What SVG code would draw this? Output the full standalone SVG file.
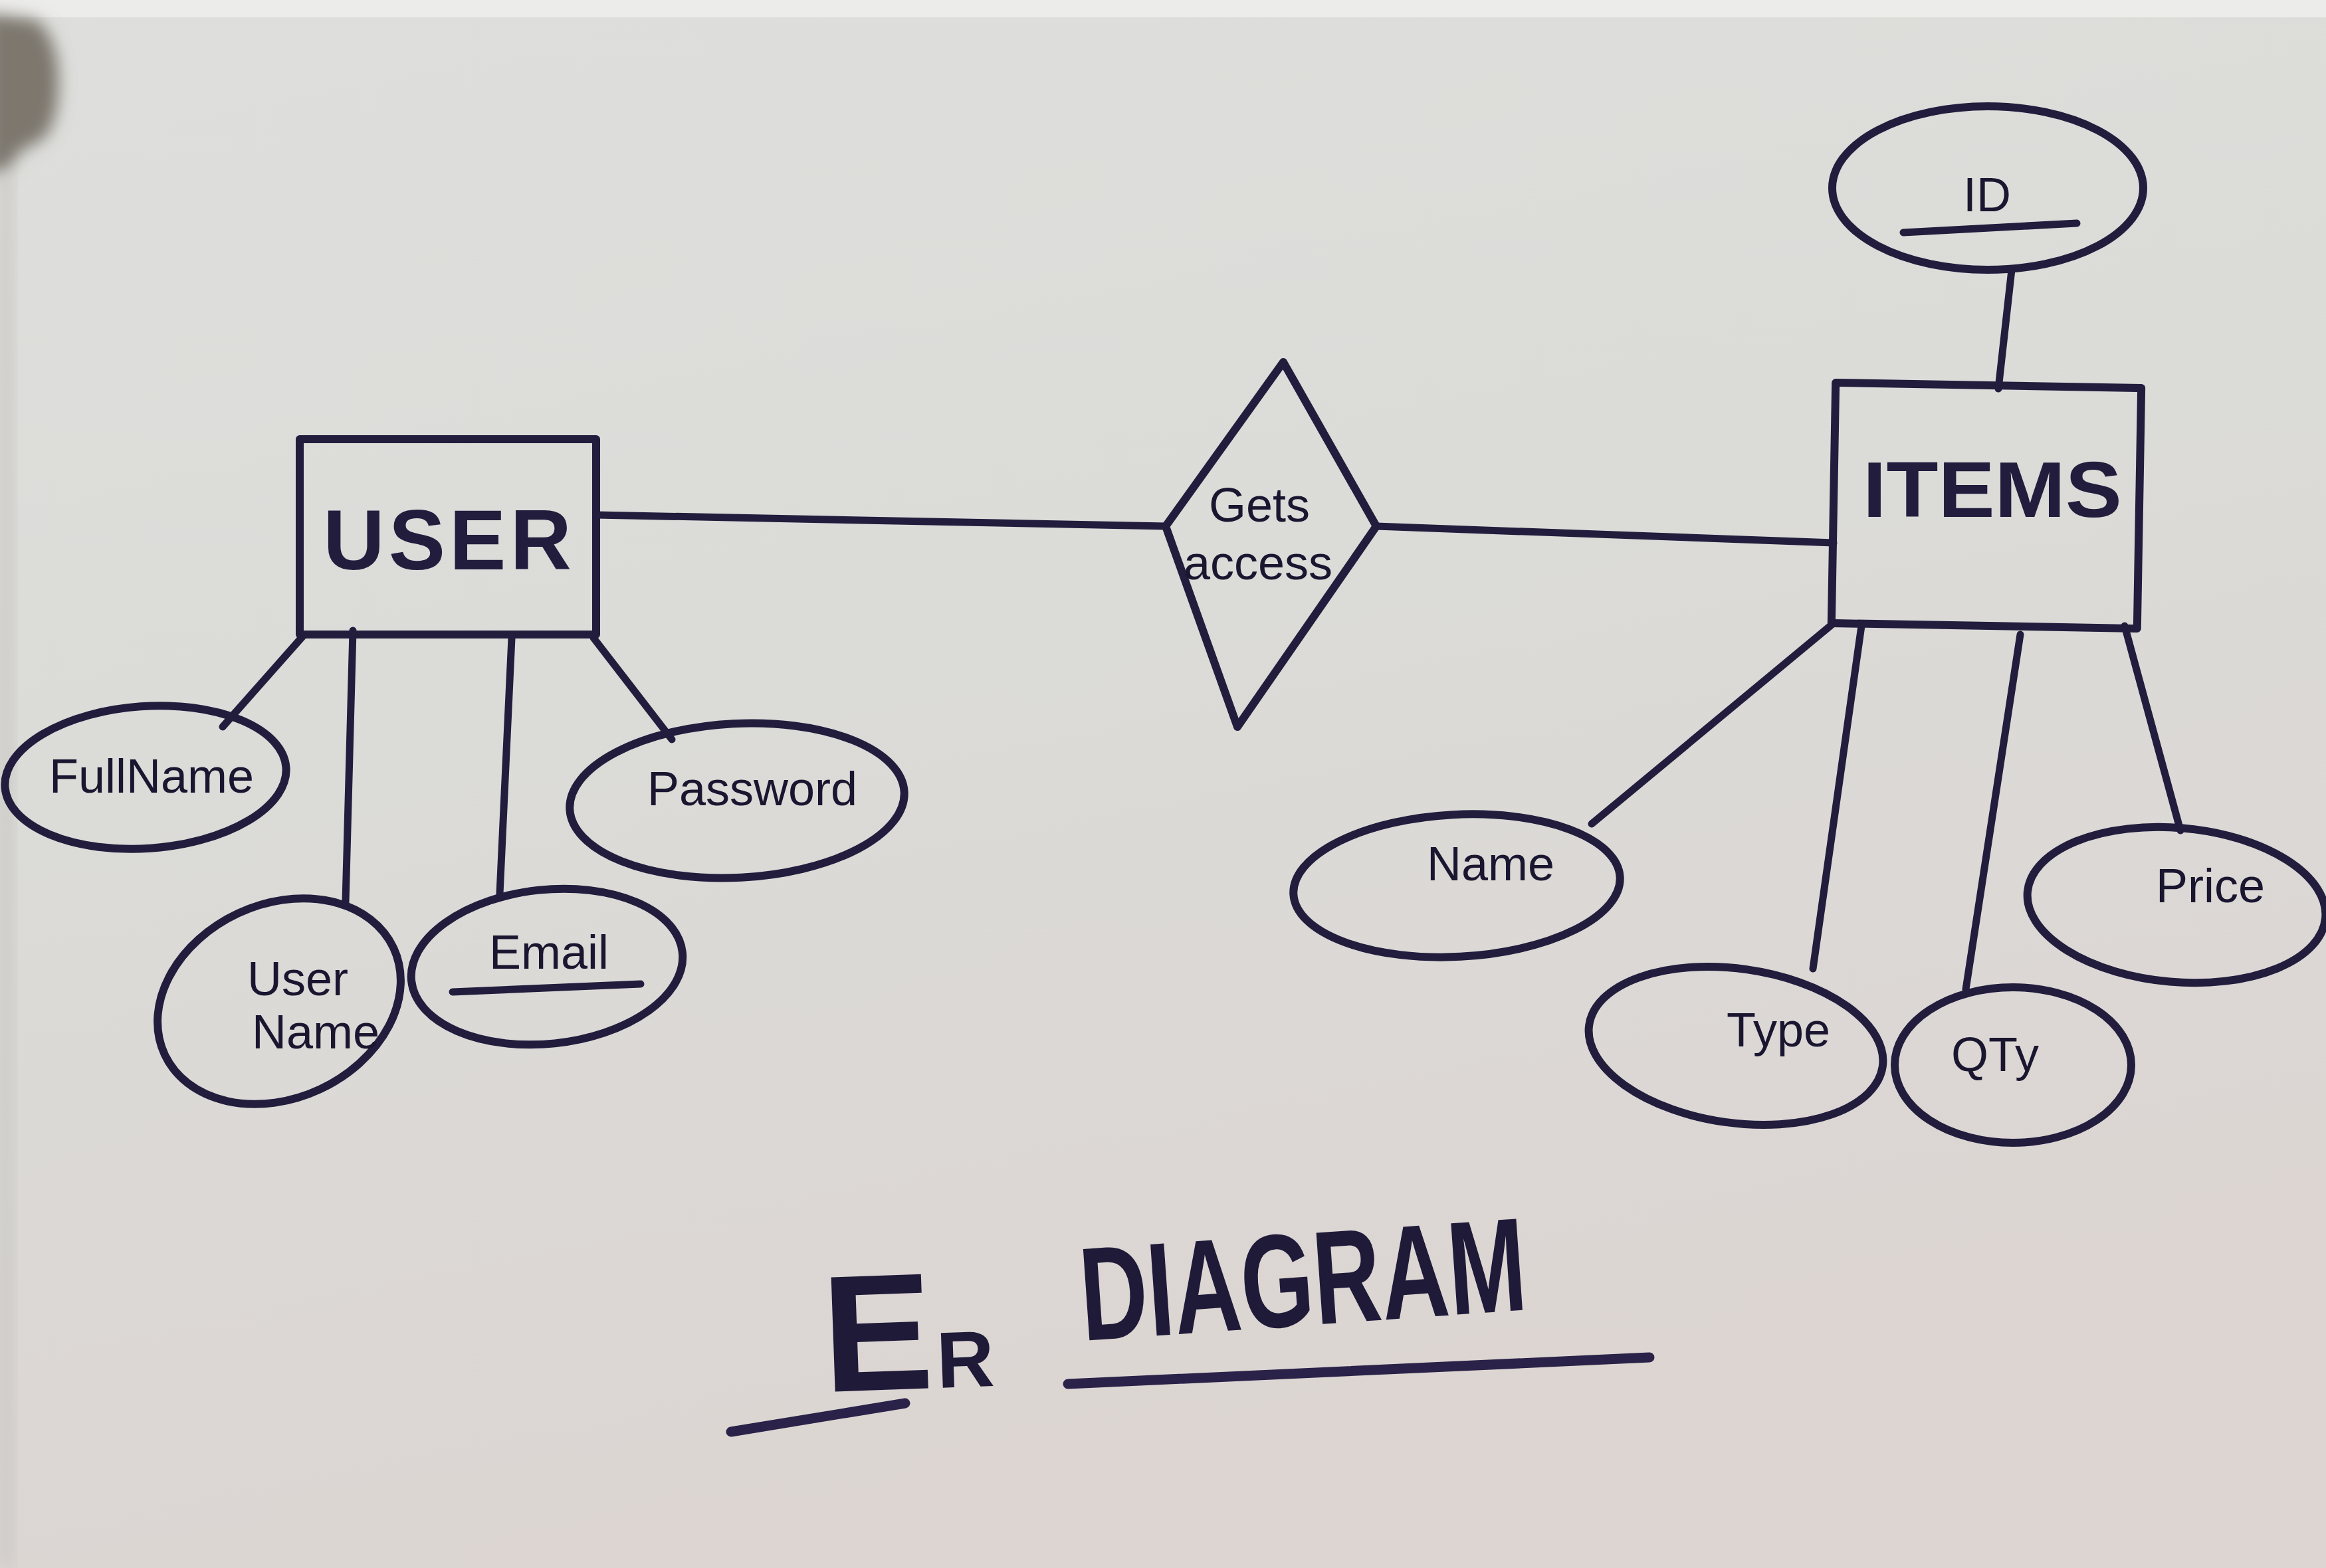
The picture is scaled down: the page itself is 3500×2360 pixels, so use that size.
<svg xmlns="http://www.w3.org/2000/svg" width="3500" height="2360" viewBox="0 0 3500 2360">
<defs>
<linearGradient id="paper" x1="0" y1="0" x2="0.3" y2="1">
<stop offset="0" stop-color="#dedfdc"/>
<stop offset="0.5" stop-color="#dbdbd8"/>
<stop offset="1" stop-color="#dcd5d2"/>
</linearGradient>
<filter id="soft" x="-50%" y="-50%" width="200%" height="200%">
<feGaussianBlur stdDeviation="12"/>
</filter>
<style>
.ink{fill:none;stroke:#221d3d;stroke-width:11;stroke-linecap:round;stroke-linejoin:round}
.shape{fill:none;stroke:#221d3d;stroke-width:12;stroke-linejoin:round}
.attr{font-family:"Liberation Sans",Arial,sans-serif;font-size:72px;fill:#1a1630;text-anchor:middle}
.ent{font-family:"Liberation Sans",Arial,sans-serif;font-weight:bold;fill:#221d3d;text-anchor:middle}
.title{font-family:"Liberation Sans",Arial,sans-serif;font-weight:bold;fill:#1f1a38}
</style>
</defs>
<rect x="0" y="0" width="3500" height="2360" fill="url(#paper)"/>
<rect x="0" y="0" width="3500" height="26" fill="#ececea"/>
<path d="M-20,20 L55,30 Q90,60 88,130 Q86,200 55,215 Q25,225 10,260 L-20,260 Z" fill="#7d776e" filter="url(#soft)"/>
<rect x="0" y="260" width="18" height="2100" fill="#c9c7c3" filter="url(#soft)"/>

<g id="connectors" class="ink">
<line x1="897" y1="775" x2="1754" y2="792"/>
<line x1="2071" y1="792" x2="2759" y2="817"/>
<line x1="3027" y1="406" x2="3007" y2="585"/>
<line x1="458" y1="955" x2="335" y2="1094"/>
<line x1="531" y1="949" x2="520" y2="1358"/>
<line x1="770" y1="960" x2="752" y2="1345"/>
<line x1="893" y1="960" x2="1011" y2="1113"/>
<line x1="2759" y1="938" x2="2395" y2="1240"/>
<line x1="2801" y1="942" x2="2728" y2="1458"/>
<line x1="3040" y1="955" x2="2958" y2="1489"/>
<line x1="3197" y1="942" x2="3281" y2="1250"/>
</g>

<g id="user">
<rect class="shape" x="451" y="661" width="446" height="294"/>
<text class="ent" x="676" y="857" font-size="128" letter-spacing="6">USER</text>
</g>

<g id="items">
<rect class="shape" x="2759" y="580" width="460" height="362" transform="rotate(1 2989 761)"/>
<text class="ent" x="2998" y="778" font-size="118" textLength="390" lengthAdjust="spacingAndGlyphs">ITEMS</text>
</g>

<g id="gets-access">
<polygon class="shape" points="1931,545 2071,792 1862,1094 1754,792"/>
<text class="attr" x="1895" y="785" font-size="70">Gets</text>
<text class="attr" x="1893" y="872" font-size="68">access</text>
</g>

<g id="id">
<ellipse class="shape" cx="2991" cy="283" rx="234" ry="123"/>
<text class="attr" x="2990" y="318" font-size="100">ID</text>
<line class="ink" x1="2864" y1="350" x2="3125" y2="336"/>
</g>

<g id="fullname">
<ellipse class="shape" cx="219" cy="1170" rx="212" ry="107" transform="rotate(-4 219 1170)"/>
<text class="attr" x="228" y="1193">FullName</text>
</g>

<g id="username">
<ellipse class="shape" cx="420" cy="1507" rx="190" ry="146" transform="rotate(-25 420 1507)"/>
<text class="attr" x="448" y="1498">User</text>
<text class="attr" x="475" y="1578">Name</text>
</g>

<g id="email">
<ellipse class="shape" cx="823" cy="1455" rx="205" ry="116" transform="rotate(-6 823 1455)"/>
<text class="attr" x="826" y="1458" font-size="76">Email</text>
<line class="ink" x1="681" y1="1493" x2="964" y2="1481"/>
</g>

<g id="password">
<ellipse class="shape" cx="1109" cy="1205" rx="252" ry="116" transform="rotate(-3 1109 1205)"/>
<text class="attr" x="1132" y="1212">Password</text>
</g>

<g id="name">
<ellipse class="shape" cx="2192" cy="1333" rx="246" ry="107" transform="rotate(-3 2192 1333)"/>
<text class="attr" x="2243" y="1325">Name</text>
</g>

<g id="type">
<ellipse class="shape" cx="2612" cy="1574" rx="223" ry="116" transform="rotate(8 2612 1574)"/>
<text class="attr" x="2676" y="1575">Type</text>
</g>

<g id="qty">
<ellipse class="shape" cx="3029" cy="1603" rx="178" ry="117"/>
<text class="attr" x="3002" y="1612">QTy</text>
</g>

<g id="price">
<ellipse class="shape" cx="3275" cy="1362" rx="225" ry="116" transform="rotate(5 3275 1362)"/>
<text class="attr" x="3326" y="1358">Price</text>
</g>

<g id="title">
<text class="title" x="1240" y="2095" font-size="250" transform="rotate(-2 1240 2095)">E<tspan font-size="120" dx="4">R</tspan></text>
<text class="title" x="1630" y="2018" font-size="200" textLength="672" lengthAdjust="spacingAndGlyphs" transform="rotate(-4 1630 2018)">DIAGRAM</text>
<line x1="1100" y1="2155" x2="1362" y2="2112" stroke="#2a2248" stroke-width="15" stroke-linecap="round"/>
<line x1="1607" y1="2083" x2="2482" y2="2043" stroke="#2a2248" stroke-width="15" stroke-linecap="round"/>
</g>
</svg>
